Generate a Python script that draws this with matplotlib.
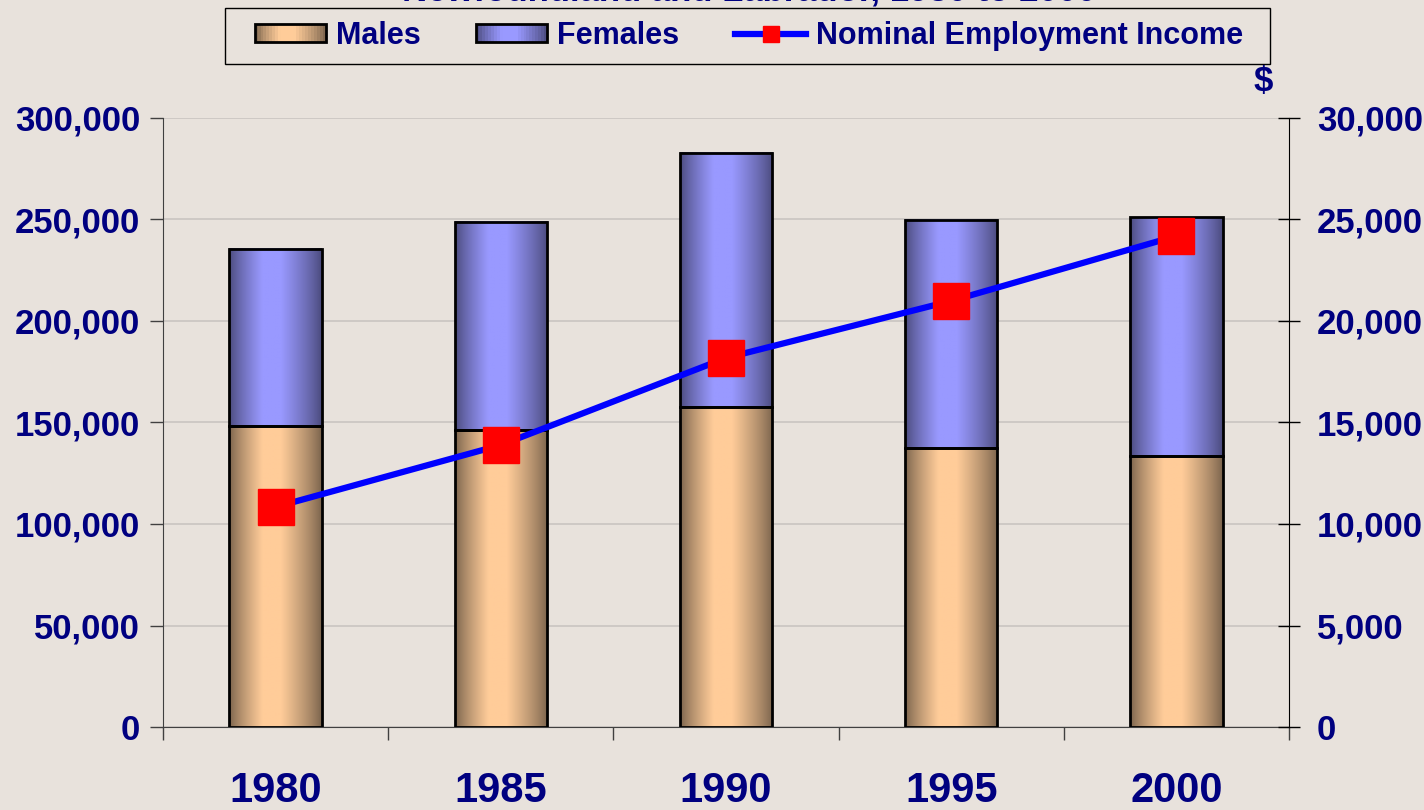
import numpy as np
import matplotlib
matplotlib.use('Agg')
import matplotlib.pyplot as plt
from matplotlib.patches import Rectangle
from matplotlib.legend_handler import HandlerPatch
from matplotlib.lines import Line2D
from matplotlib.ticker import FuncFormatter

# data
years = ['1980', '1985', '1990', '1995', '2000']
males = [148300, 146300, 157600, 137400, 133500]
females = [87200, 102500, 125200, 112400, 117700]
income = [10840, 13890, 18180, 20990, 24190]

title = 'Newfoundland and Labrador, 1980 to 2000'
navy = '#000080'
bg = '#E8E2DC'
male_c = ('#FFCC99', '#76604A')
female_c = ('#9999FF', '#484878')

plt.rcParams['font.family'] = ['Liberation Sans', 'DejaVu Sans']
plt.rcParams['font.weight'] = 'bold'


def gradient_colors(center, edge, n=64):
    c = np.array(matplotlib.colors.to_rgb(center))
    e = np.array(matplotlib.colors.to_rgb(edge))
    t = (np.arange(n) + 0.5) / n
    d = np.where(t < 0.45, (0.45 - t) / 0.45, (t - 0.45) / 0.55)
    f = np.clip((1 - d) / 0.8, 0, 1) ** 0.8
    return e + (c - e) * f[:, None]


class GradientHandler(HandlerPatch):
    def __init__(self, center, edge, **kw):
        super().__init__(**kw)
        self.cols = gradient_colors(center, edge, 24)

    def create_artists(self, legend, orig_handle, xdescent, ydescent,
                       width, height, fontsize, trans):
        arts = []
        n = len(self.cols)
        for i, col in enumerate(self.cols):
            r = Rectangle((-xdescent + width * i / n, -ydescent), width / n + 0.3, height,
                          facecolor=col, edgecolor='none', transform=trans)
            arts.append(r)
        arts.append(Rectangle((-xdescent, -ydescent), width, height, facecolor='none',
                              edgecolor='black', lw=2, transform=trans))
        return arts


fig = plt.figure(figsize=(14.24, 8.10), dpi=100, facecolor=bg)
ax = fig.add_axes([163 / 1424, 1 - 727 / 810, (1289 - 163) / 1424, (727 - 118) / 810])
ax.set_facecolor(bg)

x = np.arange(len(years))
w = 0.41
b1 = ax.bar(x, males, w, facecolor='none', edgecolor='black', lw=2, zorder=3)
b2 = ax.bar(x, females, w, bottom=males, facecolor='none', edgecolor='black', lw=2, zorder=3)

for bars, (cc, ec) in ((b1, male_c), (b2, female_c)):
    img = gradient_colors(cc, ec)[None, :, :]
    for p in bars:
        ax.imshow(img, extent=[p.get_x(), p.get_x() + p.get_width(), p.get_y(), p.get_y() + p.get_height()],
                  aspect='auto', interpolation='bilinear', zorder=2)

ax.set_xlim(-0.5, len(years) - 0.5)
ax.set_ylim(0, 300000)
ax.set_yticks(np.arange(0, 300001, 50000))
ax.yaxis.set_major_formatter(FuncFormatter(lambda v, p: f'{int(v):,}'))
ax.grid(axis='y', color='#C9C5C1', lw=1.2, zorder=0)
ax.set_axisbelow(True)

ax.set_xticks(np.arange(-0.5, len(years)), [''] * (len(years) + 1))
ax.set_xticks(x, years, minor=True)
ax.tick_params(axis='x', which='major', direction='out', length=9.5, width=1, color='#404040')
ax.tick_params(axis='x', which='minor', length=0, pad=32, labelsize=30, labelcolor=navy)
ax.tick_params(axis='y', direction='out', length=9.5, width=1, pad=7, labelsize=25,
               labelcolor=navy, color='#404040')
for s in ['top', 'right']:
    ax.spines[s].set_visible(False)
ax.spines['left'].set_color('#404040')
ax.spines['bottom'].set_color('#404040')

ax2 = ax.twinx()
ax2.plot(x, income, color='#0000FF', lw=4.5, marker='s', markersize=26.5,
         markerfacecolor='#FF0000', markeredgecolor='#FF0000', zorder=5)
ax2.set_ylim(0, 30000)
ax2.set_yticks(np.arange(0, 30001, 5000))
ax2.yaxis.set_major_formatter(FuncFormatter(lambda v, p: f'{int(v):,}'))
ax2.tick_params(axis='y', direction='inout', length=16, width=1, pad=12, labelsize=25,
                labelcolor=navy, color='black')
for s in ['top', 'left', 'bottom']:
    ax2.spines[s].set_visible(False)
ax2.spines['right'].set_color('black')

# title is cut off at the top edge, as in the original
fig.text(749 / 1424, 1.0, title, ha='center', va='baseline', fontsize=25,
         color=navy, fontweight='bold')
fig.text(1263 / 1424, 1 - 82 / 810, '$', ha='center', va='center', fontsize=25,
         color=navy, fontweight='bold')

# legend frame drawn separately
fig.add_artist(Rectangle((225 / 1424, 1 - 64 / 810), 1045 / 1424, 56 / 810,
                         transform=fig.transFigure, facecolor=bg, edgecolor='black', lw=1))
h1 = Rectangle((0, 0), 1, 1)
h2 = Rectangle((0, 0), 1, 1)
h3 = Line2D([], [], color='#0000FF', lw=4.5, marker='s', markersize=11,
            markerfacecolor='#FF0000', markeredgecolor='#FF0000')
leg = fig.legend([h1, h2, h3], ['Males', 'Females', 'Nominal Employment Income'],
                 loc='center', bbox_to_anchor=(749 / 1424, 1 - 36 / 810), ncol=3,
                 fontsize=22, handlelength=2.32, handleheight=0.52, handletextpad=0.33,
                 columnspacing=1.83, borderpad=0.2, frameon=False,
                 handler_map={h1: GradientHandler(*male_c), h2: GradientHandler(*female_c)})
for t in leg.get_texts():
    t.set_color(navy)
    t.set_fontweight('bold')

fig.savefig('out.png', dpi=100, facecolor=bg)
